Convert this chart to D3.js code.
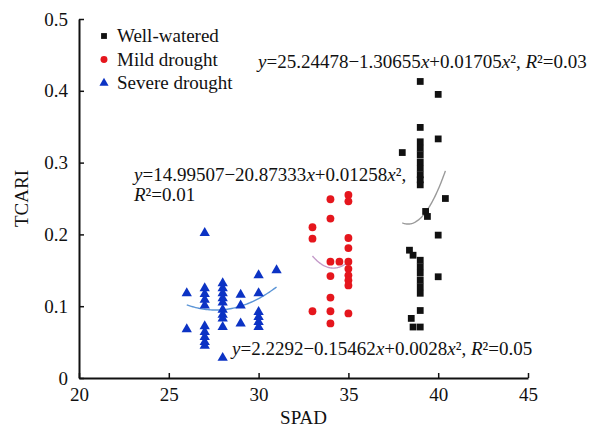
<!DOCTYPE html>
<html>
<head>
<meta charset="utf-8">
<script src="https://cdn.jsdelivr.net/npm/d3@7"></script>
<style>
  html, body { margin: 0; padding: 0; background: #fff; }
  svg { display: block; }
  text { font-family: "Liberation Serif", "Times New Roman", serif; fill: #111; }
</style>
</head>
<body>
<svg id="chart" width="603" height="433"></svg>
<script>
// Axis ticks
const xTicks = [20, 25, 30, 35, 40, 45];
const yTicks = [0, 0.1, 0.2, 0.3, 0.4, 0.5];

// Series names
const seriesNames = ["Well-watered", "Mild drought", "Severe drought"];

// Well-watered: SPAD / TCARI
const wellSpad  = [39, 40, 39, 40, 39, 38, 39, 39, 39, 39, 39, 39, 39, 40.4, 39.3, 39.4, 40, 38.4, 38.6,
                   39, 39, 39, 39, 39, 39, 40, 39, 38.5, 38.6, 39];
const wellTcari = [0.413, 0.395, 0.349, 0.333, 0.329, 0.314, 0.320, 0.311, 0.301, 0.292, 0.283, 0.276, 0.269, 0.250, 0.232, 0.225, 0.199, 0.178, 0.171,
                   0.164, 0.155, 0.146, 0.136, 0.127, 0.118, 0.141, 0.094, 0.083, 0.071, 0.071];

// Mild drought: SPAD / TCARI
const mildSpad  = [33, 33, 33, 34, 34, 34, 34, 34, 34, 34, 34.5, 35, 35, 35, 35, 35, 35, 35, 35, 35, 35];
const mildTcari = [0.210, 0.194, 0.093, 0.249, 0.222, 0.162, 0.142, 0.112, 0.093, 0.076, 0.162,
                   0.255, 0.246, 0.195, 0.181, 0.162, 0.152, 0.143, 0.136, 0.129, 0.090];

// Severe drought: SPAD / TCARI
const severeSpad  = [26, 26, 27, 27, 27, 27, 27, 27, 27, 27, 27, 27, 28, 28, 28, 28, 28, 28, 28, 28, 28, 28,
                     29, 29, 29, 30, 30, 30, 30, 30, 30, 31];
const severeTcari = [0.118, 0.068, 0.202, 0.125, 0.117, 0.109, 0.101, 0.072, 0.064, 0.057, 0.050, 0.045,
                     0.132, 0.125, 0.118, 0.111, 0.105, 0.095, 0.088, 0.083, 0.071, 0.028,
                     0.116, 0.101, 0.076, 0.143, 0.118, 0.092, 0.085, 0.078, 0.071, 0.150];

// Quadratic trend coefficients [a, b, c] for y = a + b x + c x^2, with SPAD range
const wellFit   = [25.24478, -1.30655, 0.01705];
const wellRange = [38, 40.4];
const mildFit   = [14.8305, -0.8594, 0.01258];
const mildRange = [33, 35];
const severeFit   = [2.2292, -0.15462, 0.0028];
const severeRange = [26, 31];

// Equation labels
const eqWell   = "y=25.24478\u22121.30655x+0.01705x\u00B2, R\u00B2=0.03";
const eqMild1  = "y=14.99507\u221220.87333x+0.01258x\u00B2,";
const eqMild2  = "R\u00B2=0.01";
const eqSevere = "y=2.2292\u22120.15462x+0.0028x\u00B2, R\u00B2=0.05";

// Axis titles
const xTitle = "SPAD";
const yTitle = "TCARI";

const svg = d3.select("#chart");
const x = d3.scaleLinear().domain([20, 45]).range([79, 528]);
const y = d3.scaleLinear().domain([0, 0.5]).range([378, 19]);

const FONT = 19;

// Axes
const xAxis = d3.axisBottom(x).tickValues(xTicks).tickSizeInner(-5).tickSizeOuter(0).tickPadding(10)
  .tickFormat(d3.format("d"));
const yAxis = d3.axisLeft(y).tickValues(yTicks).tickSizeInner(-5).tickSizeOuter(0).tickPadding(11)
  .tickFormat(d => d === 0 ? "0" : d.toFixed(1));

const gx = svg.append("g").attr("transform", `translate(0,${y(0)})`).call(xAxis);
const gy = svg.append("g").attr("transform", `translate(${x(20)},0)`).call(yAxis);
[gx, gy].forEach(g => {
  g.select(".domain").attr("stroke", "#111").attr("stroke-width", 2);
  g.selectAll(".tick line").attr("stroke", "#111").attr("stroke-width", 1.5);
  g.selectAll(".tick text").attr("font-family", "Liberation Serif, Times New Roman, serif")
    .attr("font-size", FONT).attr("fill", "#111");
});

// Axis titles
svg.append("text").attr("x", (x(20) + x(45)) / 2).attr("y", 424)
  .attr("text-anchor", "middle").attr("font-size", FONT).text(xTitle);
svg.append("text").attr("transform", `translate(28,${(y(0) + y(0.5)) / 2}) rotate(-90)`)
  .attr("text-anchor", "middle").attr("font-size", FONT).text(yTitle);

// Trend curves
function curvePoints(coef, range) {
  const pts = [];
  const n = 60;
  for (let i = 0; i <= n; i++) {
    const s = range[0] + (range[1] - range[0]) * i / n;
    pts.push([s, coef[0] + coef[1] * s + coef[2] * s * s]);
  }
  return pts;
}
const line = d3.line().x(d => x(d[0])).y(d => y(d[1])).curve(d3.curveLinear);
const curves = [
  { coef: wellFit, range: wellRange, color: "#9a9a9a" },
  { coef: mildFit, range: mildRange, color: "#c49ac9" },
  { coef: severeFit, range: severeRange, color: "#5b95d6" }
];
svg.append("g").selectAll("path").data(curves).join("path")
  .attr("d", d => line(curvePoints(d.coef, d.range)))
  .attr("fill", "none").attr("stroke", d => d.color).attr("stroke-width", 1.4);

// Markers
const series = [
  { spad: wellSpad, tcari: wellTcari, symbol: d3.symbolSquare, size: 46, color: "#111111", legSize: 34 },
  { spad: mildSpad, tcari: mildTcari, symbol: d3.symbolCircle, size: 48, color: "#e5161d", legSize: 38 },
  { spad: severeSpad, tcari: severeTcari, symbol: d3.symbolTriangle, size: 46, color: "#0c33c4", legSize: 36 }
];
series.forEach(s => {
  const pts = s.spad.map((v, i) => [v, s.tcari[i]]);
  svg.append("g").selectAll("path").data(pts).join("path")
    .attr("d", d3.symbol().type(s.symbol).size(s.size))
    .attr("transform", d => `translate(${x(d[0])},${y(d[1])})`)
    .attr("fill", s.color);
});

// Legend
const legend = svg.append("g");
series.forEach((s, i) => {
  const cy = 36 + i * 23.5;
  legend.append("path").attr("d", d3.symbol().type(s.symbol).size(s.legSize)())
    .attr("transform", `translate(104,${cy})`).attr("fill", s.color);
  legend.append("text").attr("x", 117).attr("y", cy + 6).attr("font-size", FONT).text(seriesNames[i]);
});

// Equation text with italic variables
function equation(str, px, py) {
  const t = svg.append("text").attr("x", px).attr("y", py).attr("font-size", FONT);
  const runs = [];
  for (const ch of str) {
    const it = /[xyR]/.test(ch);
    if (runs.length && runs[runs.length - 1].it === it) runs[runs.length - 1].s += ch;
    else runs.push({ s: ch, it });
  }
  runs.forEach(r => t.append("tspan").attr("font-style", r.it ? "italic" : "normal").text(r.s));
  return t;
}
equation(eqWell, 258, 68);
equation(eqMild1, 134, 181);
equation(eqMild2, 134, 201);
equation(eqSevere, 232, 355);
</script>
</body>
</html>
